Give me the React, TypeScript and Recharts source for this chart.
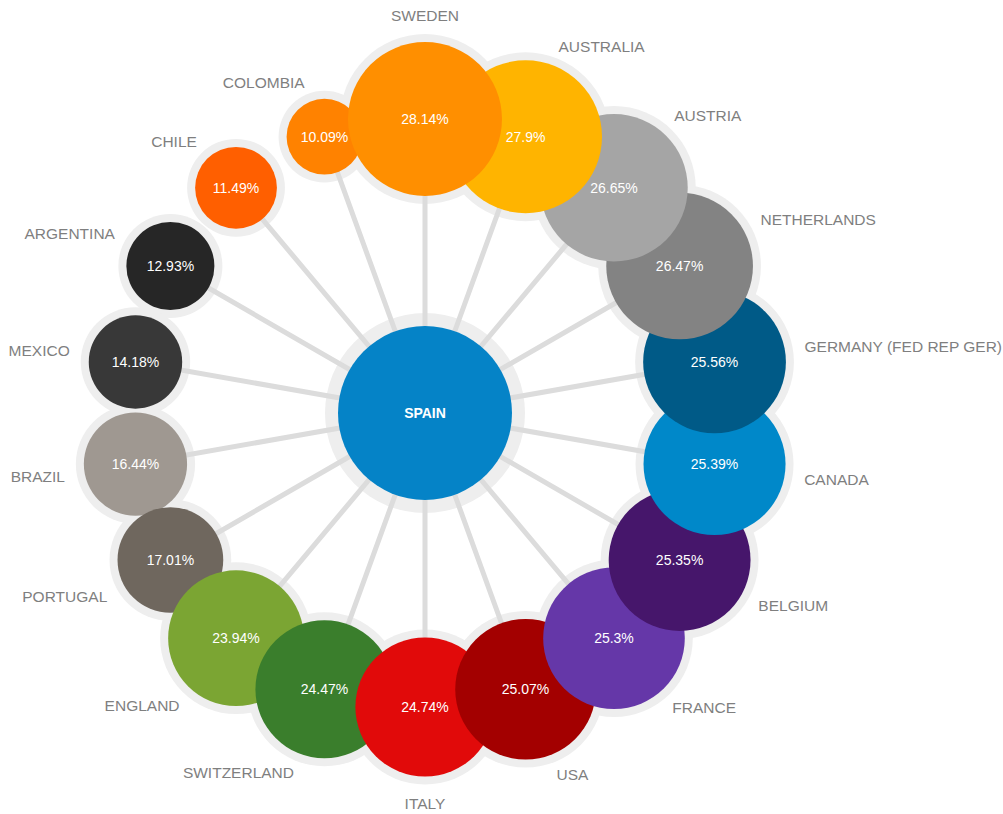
import { ScatterChart, Scatter, XAxis, YAxis, ZAxis } from 'recharts'

// clockwise from the top
const COUNTRIES = [
  'SWEDEN',
  'AUSTRALIA',
  'AUSTRIA',
  'NETHERLANDS',
  'GERMANY (FED REP GER)',
  'CANADA',
  'BELGIUM',
  'FRANCE',
  'USA',
  'ITALY',
  'SWITZERLAND',
  'ENGLAND',
  'PORTUGAL',
  'BRAZIL',
  'MEXICO',
  'ARGENTINA',
  'CHILE',
  'COLOMBIA',
]

const VALUES = [
  28.14, 27.9, 26.65, 26.47, 25.56, 25.39, 25.35, 25.3, 25.07, 24.74, 24.47,
  23.94, 17.01, 16.44, 14.18, 12.93, 11.49, 10.09,
]

const COLORS = [
  '#ff8f00', // Sweden
  '#ffb400', // Australia
  '#a5a5a5', // Austria
  '#838383', // Netherlands
  '#005a87', // Germany
  '#0088c9', // Canada
  '#46166b', // Belgium
  '#6537a8', // France
  '#a30000', // USA
  '#e10a0a', // Italy
  '#3a7e2c', // Switzerland
  '#7ba533', // England
  '#6f675e', // Portugal
  '#9f9891', // Brazil
  '#383838', // Mexico
  '#262626', // Argentina
  '#ff5f00', // Chile
  '#ff8200', // Colombia
]

const CENTER_NAME = 'SPAIN'
const CENTER_COLOR = '#0583c7'

// layout
const W = 1003
const H = 814
const CX = 425
const CY = 413
const RING = 294
const HALO = '#eeeeee'
const SPOKE = '#dcdcdc'
const FONT = '"Liberation Sans", Arial, sans-serif'

const ringPoints = COUNTRIES.map((name, i) => {
  const a = (i * 2 * Math.PI) / COUNTRIES.length
  return {
    name,
    value: VALUES[i],
    color: COLORS[i],
    sin: Math.sin(a),
    cos: Math.cos(a),
    x: RING * Math.sin(a),
    y: RING * Math.cos(a),
  }
})

// bigger bubbles sit on top
const bubbleData = [...ringPoints].sort((a, b) => a.value - b.value)

// center -> p1 -> center -> p2 ... gives the spokes with one joint line
const spokeData = ringPoints.flatMap(p => [
  { x: 0, y: 0 },
  { x: p.x, y: p.y },
])

const centerData = [{ x: 0, y: 0, name: CENTER_NAME }]

const radiusOf = (props: any) =>
  typeof props.size === 'number' && isFinite(props.size)
    ? props.size
    : (props.width ?? 0) / 2

const Empty = () => <g />

const CenterHalo = (props: any) => (
  <circle cx={props.cx} cy={props.cy} r={100} fill={HALO} />
)

const RingHalo = (props: any) => (
  <circle cx={props.cx} cy={props.cy} r={radiusOf(props) + 8} fill={HALO} />
)

const CenterBubble = (props: any) => (
  <g>
    <circle cx={props.cx} cy={props.cy} r={87} fill={CENTER_COLOR} />
    <text
      x={props.cx}
      y={props.cy}
      textAnchor="middle"
      dominantBaseline="central"
      fill="#fff"
      fontSize={14}
      fontWeight="bold"
      fontFamily={FONT}
    >
      {props.payload.name}
    </text>
  </g>
)

const Bubble = (props: any) => {
  const { cx, cy, payload } = props
  const r = radiusOf(props)
  const d = r + 20
  const lx = cx + payload.sin * d
  let ly = cy - payload.cos * d
  let anchor: 'start' | 'middle' | 'end' = payload.sin > 0 ? 'start' : 'end'
  if (Math.abs(payload.sin) < 0.1) {
    anchor = 'middle'
    ly -= payload.cos * 7
  }
  return (
    <g>
      <circle cx={cx} cy={cy} r={r} fill={payload.color} />
      <text
        x={cx}
        y={cy}
        textAnchor="middle"
        dominantBaseline="central"
        fill="#fff"
        fontSize={14}
        fontFamily={FONT}
      >
        {`${payload.value}%`}
      </text>
      <text
        x={lx}
        y={ly}
        textAnchor={anchor}
        dominantBaseline="central"
        fill="#7f7f7f"
        fontSize={15.5}
        fontFamily={FONT}
      >
        {payload.name}
      </text>
    </g>
  )
}

export default function App() {
  return (
    <div style={{ width: W, height: H, background: '#fff' }}>
      <style>{'body{margin:0}'}</style>
      <ScatterChart
        width={W}
        height={H}
        margin={{ top: 0, right: 0, bottom: 0, left: 0 }}
      >
        <XAxis
          type="number"
          dataKey="x"
          hide
          domain={[-CX, W - CX]}
          allowDataOverflow
        />
        <YAxis
          type="number"
          dataKey="y"
          hide
          domain={[-(H - CY), CY]}
          allowDataOverflow
        />
        <ZAxis type="number" dataKey="value" domain={[0, 30]} range={[16, 81]} />
        <Scatter data={bubbleData} shape={RingHalo} isAnimationActive={false} />
        <Scatter data={centerData} shape={CenterHalo} isAnimationActive={false} />
        <Scatter
          data={spokeData}
          line={{ stroke: SPOKE, strokeWidth: 5 }}
          shape={Empty}
          isAnimationActive={false}
        />
        <Scatter data={centerData} shape={CenterBubble} isAnimationActive={false} />
        <Scatter data={bubbleData} shape={Bubble} isAnimationActive={false} />
      </ScatterChart>
    </div>
  )
}
